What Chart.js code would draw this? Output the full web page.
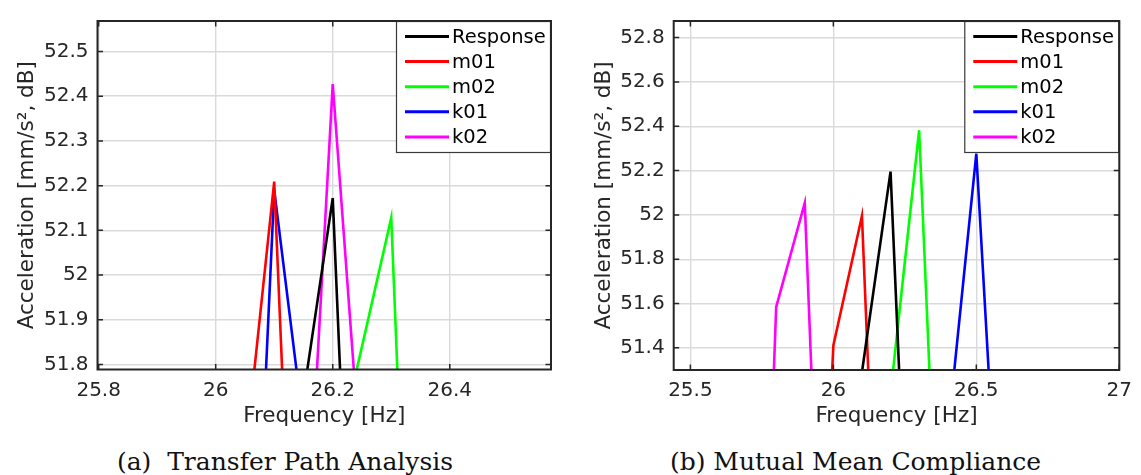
<!DOCTYPE html>
<html>
<head>
<meta charset="utf-8">
<title>Peak comparison</title>
<script src="https://cdn.jsdelivr.net/npm/chart.js@4.4.1/dist/chart.umd.min.js"></script>
<style>
  html, body { margin: 0; padding: 0; background: #ffffff; }
  #page { position: relative; width: 1141px; height: 475px; overflow: hidden; }
  .panel { position: absolute; top: 0; height: 475px; }
  .panel canvas { display: block; }
  .caption {
    position: absolute; left: 0; top: 446px; width: 100%;
    text-align: center; white-space: pre;
    font-family: 'DejaVu Serif', serif; font-size: 25px; line-height: 32px; color: #111111;
  }
</style>
</head>
<body>
<div id="page">
  <div class="panel" style="left:0; width:570px;">
    <canvas id="tpa" width="570" height="440"></canvas>
    <div class="caption">(a)  Transfer Path Analysis</div>
  </div>
  <div class="panel" style="left:570px; width:571px;">
    <canvas id="mmc" width="571" height="440"></canvas>
    <div class="caption">(b) Mutual Mean Compliance</div>
  </div>
</div>

<script>
// ---- shared series names ----
const seriesNames = ['Response', 'm01', 'm02', 'k01', 'k02'];

// ---- (a) Transfer Path Analysis: frequency [Hz] / acceleration [dB] ----
const tpaFreqResponse = [26.1, 26.2, 26.3];
const tpaResponse     = [51.29, 52.172, 49.11];
const tpaFreqM01      = [26.0, 26.1, 26.2];
const tpaM01          = [50.97, 52.209, 49.10];
const tpaFreqM02      = [26.2, 26.3, 26.4];
const tpaM02          = [51.553, 52.128, 48.87];
const tpaFreqK01      = [26.0, 26.1, 26.2];
const tpaK01          = [49.33, 52.19, 51.135];
const tpaFreqK02      = [26.1, 26.2, 26.3];
const tpaK02          = [50.06, 52.427, 50.655];

const tpaXTicks = [25.8, 26, 26.2, 26.4];
const tpaYTicks = [51.8, 51.9, 52, 52.1, 52.2, 52.3, 52.4, 52.5];
const tpaXRange = [25.798, 26.573];
const tpaYRange = [51.789, 52.568];

// ---- (b) Mutual Mean Compliance ----
const mmcFreqResponse = [26.1, 26.2, 26.3];
const mmcResponse     = [51.29, 52.195, 49.21];
const mmcFreqM01      = [25.9, 26.0, 26.1, 26.2];
const mmcM01          = [48.63, 51.411, 51.995, 48.84];
const mmcFreqM02      = [26.2, 26.3, 26.4];
const mmcM02          = [51.193, 52.382, 49.38];
const mmcFreqK01      = [26.4, 26.5, 26.6];
const mmcK01          = [51.008, 52.276, 50.006];
const mmcFreqK02      = [25.7, 25.8, 25.9, 26.0];
const mmcK02          = [48.03, 51.584, 52.054, 48.78];

const mmcXTicks = [25.5, 26, 26.5, 27];
const mmcYTicks = [51.4, 51.6, 51.8, 52, 52.2, 52.4, 52.6, 52.8];
const mmcXRange = [25.4416, 27];
const mmcYRange = [51.3, 52.875];

// ---- styling ----
const seriesColors = ['#000000', '#ff0000', '#00ff00', '#0000ff', '#ff00ff'];
const axisColor = '#262626';
const gridColor = '#dadada';
const sansFamily = "'DejaVu Sans', sans-serif";

const toPoints = (freq, vals) => freq.map((f, i) => ({ x: f, y: vals[i] }));

function buildDatasets(pairs) {
  return pairs.map(([freq, vals], i) => ({
    label: seriesNames[i],
    data: toPoints(freq, vals),
    borderColor: seriesColors[i],
    backgroundColor: seriesColors[i],
    borderWidth: 2.6,
    pointRadius: 0,
    tension: 0,
    fill: false,
    clip: 0
  }));
}

// Box frame, inward tick marks on all four sides, and an in-axes legend
const frameLegend = {
  id: 'frameLegend',
  afterDatasetsDraw(chart, args, opts) {
    const { ctx, chartArea: a, scales: { x, y } } = chart;
    const tick = 5.5;
    ctx.save();
    ctx.strokeStyle = axisColor;
    ctx.lineWidth = 1.5;
    ctx.beginPath();
    x.ticks.forEach(t => {
      const p = x.getPixelForValue(t.value);
      ctx.moveTo(p, a.bottom); ctx.lineTo(p, a.bottom - tick);
      ctx.moveTo(p, a.top);    ctx.lineTo(p, a.top + tick);
    });
    y.ticks.forEach(t => {
      const p = y.getPixelForValue(t.value);
      ctx.moveTo(a.left, p);  ctx.lineTo(a.left + tick, p);
      ctx.moveTo(a.right, p); ctx.lineTo(a.right - tick, p);
    });
    ctx.stroke();

    // legend box in the upper right corner
    const w = opts.width, h = opts.height;
    const lx = a.right - w, ly = a.top;
    ctx.fillStyle = '#ffffff';
    ctx.fillRect(lx, ly, w, h);
    ctx.lineWidth = 1.2;
    ctx.strokeStyle = '#3a3a3a';
    ctx.strokeRect(lx + 0.5, ly + 0.5, w - 1, h - 1);
    ctx.font = opts.font;
    ctx.textBaseline = 'middle';
    ctx.textAlign = 'left';
    chart.data.datasets.forEach((ds, i) => {
      const ry = ly + opts.firstRow + i * opts.rowGap;
      ctx.strokeStyle = ds.borderColor;
      ctx.lineWidth = 3;
      ctx.beginPath();
      ctx.moveTo(lx + opts.lineStart, ry);
      ctx.lineTo(lx + opts.lineStart + opts.lineLen, ry);
      ctx.stroke();
      ctx.fillStyle = '#000000';
      ctx.fillText(ds.label, lx + opts.lineStart + opts.lineLen + 3, ry + 1);
    });

    // axes box
    ctx.strokeStyle = axisColor;
    ctx.lineWidth = 2;
    ctx.strokeRect(a.left, a.top, a.right - a.left, a.bottom - a.top);
    ctx.restore();
  }
};

function makeChart(id, datasets, xRange, yRange, xTicks, yTicks, geom) {
  return new Chart(document.getElementById(id), {
    type: 'line',
    data: { datasets },
    options: {
      responsive: false,
      animation: false,
      events: [],
      layout: { padding: { top: geom.top, right: geom.right, left: 0, bottom: 0 } },
      scales: {
        x: {
          type: 'linear',
          min: xRange[0], max: xRange[1],
          afterBuildTicks: s => { s.ticks = xTicks.map(v => ({ value: v })); },
          afterFit: s => { s.height = geom.xHeight; },
          grid: { color: gridColor, lineWidth: 1.4, drawTicks: false },
          border: { display: false },
          ticks: {
            padding: 9, color: axisColor, maxRotation: 0, autoSkip: false,
            font: { family: sansFamily, size: 20 },
            callback: v => String(v)
          },
          title: {
            display: true, text: 'Frequency [Hz]', color: axisColor,
            font: { family: sansFamily, size: 21.5 },
            padding: { top: 0, bottom: 11 }
          }
        },
        y: {
          type: 'linear',
          min: yRange[0], max: yRange[1],
          afterBuildTicks: s => { s.ticks = yTicks.map(v => ({ value: v })); },
          afterFit: s => { s.width = geom.yWidth; },
          grid: { color: gridColor, lineWidth: 1.4, drawTicks: false },
          border: { display: false },
          ticks: {
            padding: 9, color: axisColor, autoSkip: false,
            font: { family: sansFamily, size: 20 },
            callback: v => String(v)
          },
          title: {
            display: true, text: 'Acceleration [mm/s\u00B2, dB]', color: axisColor,
            font: { family: sansFamily, size: 21.5 },
            padding: { top: geom.yTitlePad, bottom: 0 }
          }
        }
      },
      plugins: {
        legend: { display: false },
        tooltip: { enabled: false },
        frameLegend: {
          width: 155, height: 132, firstRow: 15.5, rowGap: 25.1,
          lineStart: 9, lineLen: 44,
          font: "19.5px 'DejaVu Sans', sans-serif"
        }
      }
    },
    plugins: [frameLegend]
  });
}

makeChart('tpa',
  buildDatasets([
    [tpaFreqResponse, tpaResponse], [tpaFreqM01, tpaM01], [tpaFreqM02, tpaM02],
    [tpaFreqK01, tpaK01], [tpaFreqK02, tpaK02]
  ]),
  tpaXRange, tpaYRange, tpaXTicks, tpaYTicks,
  { top: 15.3, right: 19, xHeight: 70.5, yWidth: 97.5, yTitlePad: 15 });

makeChart('mmc',
  buildDatasets([
    [mmcFreqResponse, mmcResponse], [mmcFreqM01, mmcM01], [mmcFreqM02, mmcM02],
    [mmcFreqK01, mmcK01], [mmcFreqK02, mmcK02]
  ]),
  mmcXRange, mmcYRange, mmcXTicks, mmcYTicks,
  { top: 14.7, right: 14, xHeight: 70, yWidth: 103.7, yTitlePad: 22 });
</script>
</body>
</html>
